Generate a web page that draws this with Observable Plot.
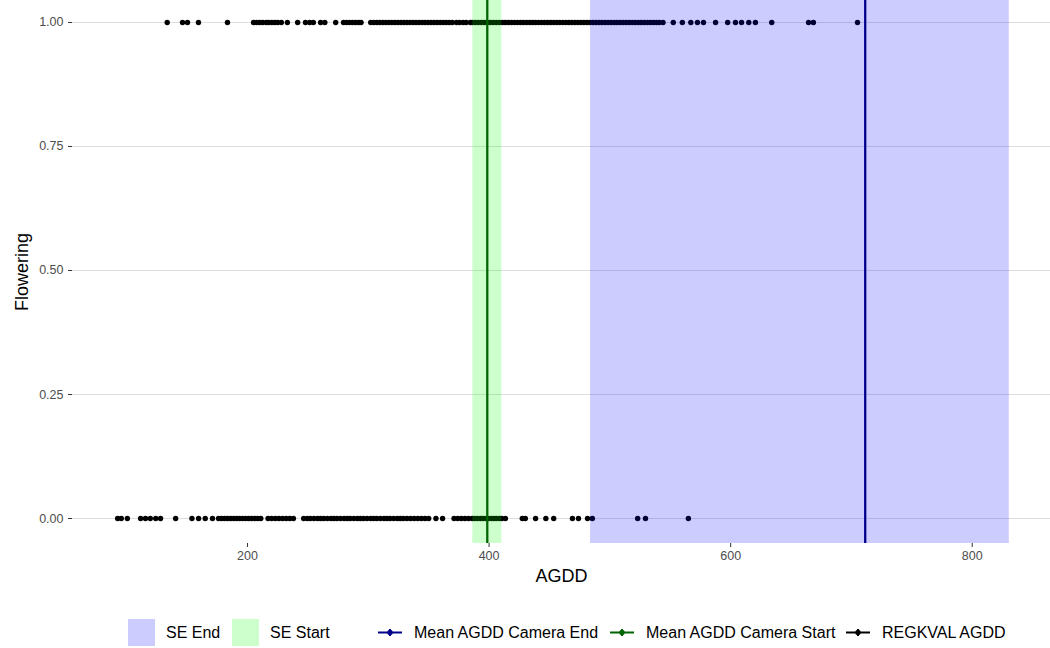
<!DOCTYPE html>
<html><head><meta charset="utf-8">
<script src="https://cdn.jsdelivr.net/npm/d3@7"></script>
<script src="https://cdn.jsdelivr.net/npm/@observablehq/plot@0.6"></script>
<style>
body{margin:0;background:#fff;font-family:"Liberation Sans",Arial,sans-serif;}
#wrap{position:relative;width:1050px;height:648px;overflow:hidden;}
#legend{position:absolute;left:0;top:610px;width:1050px;height:38px;}
.item{position:absolute;top:9px;height:27px;display:flex;align-items:center;font-size:16px;color:#000;white-space:nowrap;}
</style></head><body><div id="wrap"><div id="chart"></div><div id="legend"></div></div>
<script>
// REGKVAL AGDD observations with Flowering = 1
const agdd1 = [133.5, 146.2, 150.3, 159.4, 183.4,
  205, 207.5, 210, 212.5, 215.5, 217.5, 220, 222.5, 225, 228,
  233, 241.5, 248, 251.5, 254.5, 260.5, 264, 273,
  279.5, 282, 284.5, 287, 289.5, 292, 294,
  302, 304.5, 307, 309.5, 312, 314.5, 317, 319.5, 322, 324.5, 327, 329.5, 332, 334.5, 337, 339.5, 342, 344.5, 347, 349.5, 352, 354.5, 357, 359.5, 362, 364.5, 367, 369.5,
  373, 375.5, 378.5, 381, 384.5,
  386, 388.5, 391, 393.5, 396, 398.5, 401, 403.5, 406, 408.5, 411,
  413.5, 416, 418.5, 421, 423.5, 426, 428.5, 431, 433.5, 436, 438.5, 441, 443.5, 446, 448.5, 451, 453.5, 456, 458.5, 461, 463.5, 466, 468.5, 471, 473.5, 476, 478.5, 481, 483.5, 486, 488.5, 491, 493.5, 496, 498.5, 501, 503.5, 506, 508.5, 511, 513.5, 516, 518.5, 521, 523.5, 526, 528.5, 531, 533.5, 536, 538.5, 541, 544,
  552.5, 560, 567, 572.5, 577.5, 587.5, 597.5, 604, 609, 615, 620.5, 634, 664.5, 668.5, 705];
// REGKVAL AGDD observations with Flowering = 0
const agdd0 = [92.5, 95.5, 100.5,
  111.5, 115.5, 119.5, 124, 128,
  140.5,
  154, 159.5, 165, 171,
  176, 178.5, 181, 183.5, 186, 188.5, 191, 193.5, 196, 198.5, 201, 203.5, 206, 208.5, 211,
  217, 220, 223, 226, 229, 232, 235, 238,
  246.5, 249.5, 252, 255, 258, 260.5, 263, 266, 269, 271.5, 274, 277, 280, 282.5, 285, 288, 291, 293.5, 296, 299, 302, 304.5, 307, 310, 313, 315.5, 318, 321, 324, 326.5, 329, 332, 335,
  338, 341, 344, 347, 350, 356, 361.5,
  371, 374, 377, 380, 383, 386,
  388, 390.5, 393, 395, 397.5, 399.5, 402, 404, 406, 408.5, 410.5,
  413.5, 427.5, 430, 438.5, 447, 453.5, 469, 474, 481.5, 485.5, 523, 529.5, 565];
const seStart = [386.5, 410.5];
const seEnd = [484, 830.7];
const meanStart = 398.5;
const meanEnd = 711.4;
const xTicks = [200, 400, 600, 800];
const yTicks = [0, 0.25, 0.5, 0.75, 1];
const fillKeys = ["SE End", "SE Start"];
const fillColors = ["#CCCCFF", "#CCFFCC"];
const lineKeys = ["Mean AGDD Camera End", "Mean AGDD Camera Start", "REGKVAL AGDD"];
const lineColors = ["#00008B", "#006400", "#000000"];

const points = [
  ...agdd0.map(v => ({agdd: v, flowering: 0})),
  ...agdd1.map(v => ({agdd: v, flowering: 1}))
];

const chart = Plot.plot({
  width: 1050, height: 610,
  marginLeft: 72, marginRight: 0, marginTop: 0, marginBottom: 67,
  style: {fontFamily: '"Liberation Sans", Arial, sans-serif', fontSize: "12px", background: "#fff"},
  x: {domain: [55.1, 864.8]},
  y: {domain: [-0.0504, 1.04435]},
  marks: [
    Plot.ruleY(yTicks, {stroke: "#DEDEDE", strokeWidth: 1}),
    Plot.dot(points, {x: "agdd", y: "flowering", r: 2.7, fill: "black", stroke: "none"}),
    Plot.rect([seEnd], {x1: d => d[0], x2: d => d[1], fill: "blue", fillOpacity: 0.2}),
    Plot.rect([seStart], {x1: d => d[0], x2: d => d[1], fill: "#00FF00", fillOpacity: 0.2}),
    Plot.ruleX([meanStart], {stroke: "#006400", strokeWidth: 2.3}),
    Plot.ruleX([meanEnd], {stroke: "#00008B", strokeWidth: 2.3}),
    Plot.axisX({ticks: xTicks, tickSize: 4, tickPadding: 4, stroke: "#333", fill: "#4D4D4D", label: null, fontSize: 12.5}),
    Plot.axisY({ticks: yTicks, tickFormat: d3.format(".2f"), tickSize: 4, tickPadding: 5, stroke: "#333", fill: "#4D4D4D", label: null, fontSize: 12.5}),
    Plot.text(["AGDD"], {frameAnchor: "bottom", dy: 38, text: d => d, fontSize: 18, fill: "#000"}),
    Plot.text(["Flowering"], {frameAnchor: "left", textAnchor: "middle", dx: -50, rotate: -90, text: d => d, fontSize: 18, fill: "#000"})
  ]
});
document.getElementById("chart").appendChild(chart);

// legend
const legend = d3.select("#legend");
const fillLeft = [128, 232];
fillKeys.forEach((k, i) => {
  const it = legend.append("div").attr("class", "item").style("left", fillLeft[i] + "px");
  it.append("div").style("width", "27px").style("height", "27px").style("background", fillColors[i]);
  it.append("span").style("margin-left", "11px").text(k);
});
const lineLeft = [378, 610, 846];
lineKeys.forEach((k, i) => {
  const it = legend.append("div").attr("class", "item").style("left", lineLeft[i] + "px");
  const s = it.append("svg").attr("width", 24).attr("height", 27);
  s.append("line").attr("x1", 0).attr("x2", 24).attr("y1", 13.5).attr("y2", 13.5).attr("stroke", lineColors[i]).attr("stroke-width", 2);
  s.append("line").attr("x1", 12).attr("x2", 12).attr("y1", 10).attr("y2", 17).attr("stroke", lineColors[i]).attr("stroke-width", 2);
  s.append("circle").attr("cx", 12).attr("cy", 13.5).attr("r", 2.7).attr("fill", lineColors[i]);
  it.append("span").style("margin-left", "12px").text(k);
});
</script></body></html>
